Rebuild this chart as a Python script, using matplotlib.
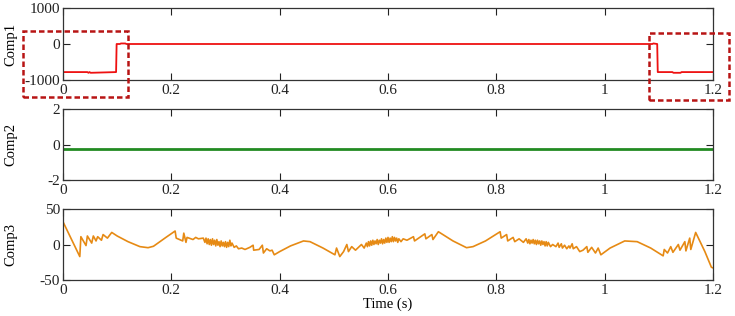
import matplotlib
matplotlib.use("Agg")
import matplotlib.pyplot as plt
from matplotlib.patches import Rectangle

plt.rcParams['font.family'] = ['Liberation Serif', 'DejaVu Serif']
plt.rcParams['font.size'] = 11

# ---- data ----
comp1_t = [0, 0.045, 0.047, 0.049, 0.051, 0.098, 0.099, 0.105, 0.107, 0.115, 0.117, 1.088, 1.090, 1.097, 1.098, 1.125, 1.127, 1.140, 1.142, 1.2]
comp1_v = [-780, -780, -800, -780, -800, -780, 0, 0, 15, 15, 0, 0, 15, 0, -780, -780, -800, -800, -780, -780]

comp2_t = [0, 1.2]
comp2_v = [-0.25, -0.25]

comp3_t = [0.000, 0.031, 0.033, 0.0425, 0.045, 0.053, 0.056, 0.061, 0.064, 0.071, 0.074, 0.082, 0.090,
           0.100, 0.120, 0.142, 0.157, 0.167, 0.190, 0.207, 0.209, 0.221, 0.223, 0.227, 0.229, 0.240,
           0.245, 0.250, 0.259, 0.262, 0.264, 0.266, 0.268, 0.270, 0.272, 0.274, 0.276, 0.278, 0.280,
           0.282, 0.284, 0.286, 0.288, 0.290, 0.292, 0.294, 0.296, 0.298, 0.300, 0.302, 0.304, 0.306,
           0.308, 0.310, 0.312, 0.316, 0.320, 0.324, 0.330, 0.336, 0.345, 0.351, 0.352, 0.362, 0.368,
           0.370, 0.376, 0.382, 0.386, 0.390, 0.400, 0.420, 0.444, 0.456, 0.480, 0.502, 0.505, 0.511,
           0.518, 0.524, 0.527, 0.533, 0.540, 0.551, 0.556, 0.560, 0.562, 0.564, 0.566, 0.568, 0.570,
           0.572, 0.574, 0.576, 0.578, 0.580, 0.582, 0.584, 0.586, 0.588, 0.590, 0.592, 0.594, 0.596,
           0.598, 0.600, 0.602, 0.604, 0.606, 0.608, 0.610, 0.612, 0.614, 0.616, 0.618, 0.620, 0.624,
           0.628, 0.635, 0.647, 0.649, 0.668, 0.670, 0.681, 0.683, 0.693, 0.720, 0.745, 0.757, 0.780,
           0.807, 0.809, 0.819, 0.821, 0.831, 0.834, 0.842, 0.850, 0.855, 0.858, 0.860, 0.862, 0.864,
           0.866, 0.868, 0.870, 0.872, 0.874, 0.876, 0.878, 0.880, 0.882, 0.884, 0.886, 0.888, 0.890,
           0.892, 0.894, 0.896, 0.900, 0.904, 0.910, 0.914, 0.916, 0.920, 0.922, 0.926, 0.930, 0.934,
           0.936, 0.940, 0.942, 0.948, 0.954, 0.960, 0.967, 0.969, 0.976, 0.983, 0.988, 0.993, 1.010,
           1.037, 1.060, 1.085, 1.108, 1.110, 1.116, 1.122, 1.126, 1.136, 1.139, 1.148, 1.150, 1.157,
           1.159, 1.168, 1.185, 1.197, 1.200]
comp3_v = [32, -17, 11, -1.5, 12, 2, 12, 5, 11, 6, 14, 9, 17,
           12, 4, -3, -4.5, -2.5, 10, 19, 9, 5, 16, 3, 10, 7,
           10, 8, 9, 3, 9, 1, 8, 0, 7, -1, 8, 0, 6,
           -2, 7, -1, 4, -3, 5, -2, 3, -3, 4, -4, 3, -3,
           6, -2, 2, -4, -2, -6, -5, -7, -4, -1, -8, -7, -1,
           -12, -6, -9, -8, -14.5, -10, -2, 5, 4, -5, -14.5, -5, -17,
           -10, 0, -10, -3, -8, 0, -5, 2, -3, 4, -2, 5, -1,
           6, 0, 5, 1, 7, 0, 6, 2, 8, 1, 7, 2, 9,
           3, 10, 3, 9, 4, 11, 4, 10, 5, 9, 3, 8, 4,
           8, 6, 11, 5, 15, 8, 14, 7, 18, 5, -4.5, -3, 5,
           18, 9, 14, 5, 10, 4, 8, 3, 8, 2, 7, 1, 6,
           2, 7, 1, 6, 0, 6, 1, 5, -1, 5, 0, 4, -2,
           4, -2, 3, -3, 0, -3, 2, -4, 1, -5, -1, -6, -2,
           -5, 1, -6, -3, -10, -8, -3, -11, -4, -12, -5, -14.5, -5,
           5, 4, -5, -16, -7, -12, -3, -11, 0, -8, 4, -9, 9,
           -7, 17, -10, -32, -33]

xticks = [0, 0.2, 0.4, 0.6, 0.8, 1, 1.2]
xtick_labels = ['0', '0.2', '0.4', '0.6', '0.8', '1', '1.2']
panel_names = ['Comp1', 'Comp2', 'Comp3']
panel_ylims = [(-1000, 1000), (-2, 2), (-50, 50)]
panel_yticks = [[-1000, 0, 1000], [-2, 0, 2], [-50, 0, 50]]

W, H = 735, 316
fig = plt.figure(figsize=(W / 100, H / 100), dpi=100)

left = 63 / W
width = (713 - 63) / W
tops = [8, 109, 209]
bots = [80, 180, 280]

series = [(comp1_t, comp1_v, '#ee1111', 1.3),
          (comp2_t, comp2_v, '#228b22', 2.0),
          (comp3_t, comp3_v, '#e68a14', 1.2)]

axes = []
for i in range(3):
    ax = fig.add_axes([left, 1 - bots[i] / H, width, (bots[i] - tops[i]) / H])
    t, v, c, lw = series[i]
    ax.plot(t, v, color=c, lw=lw)
    ax.set_xlim(0, 1.2)
    ax.set_ylim(*panel_ylims[i])
    ax.set_xticks(xticks)
    ax.set_xticklabels(xtick_labels)
    ax.set_yticks(panel_yticks[i])
    ax.set_yticklabels([str(y) for y in panel_yticks[i]])
    ax.tick_params(direction='in', top=True, right=True, length=5, width=0.8,
                   labelsize=11, pad=2, colors='#222222')
    ax.tick_params(axis='x', pad=3)
    for s in ax.spines.values():
        s.set_color('#333333')
        s.set_linewidth(0.9)
    ax.set_ylabel(panel_names[i], fontsize=10.5)
    ax.yaxis.set_label_coords((17 - 63) / 650, 0.5)
    axes.append(ax)

axes[2].set_xlabel('Time (s)', fontsize=10.5, labelpad=0)

# dashed highlight boxes on Comp1
box_color = '#b81414'
for (x0, x1, y0, y1) in [(-0.074, 0.120, -1472, 361), (1.082, 1.229, -1556, 306)]:
    r = Rectangle((x0, y0), x1 - x0, y1 - y0, fill=False, edgecolor=box_color,
                  lw=1.8, ls=(0, (2.2, 1.2)), clip_on=False, zorder=5,
                  transform=axes[0].transData)
    axes[0].add_patch(r)

fig.savefig('out.png', dpi=100)
